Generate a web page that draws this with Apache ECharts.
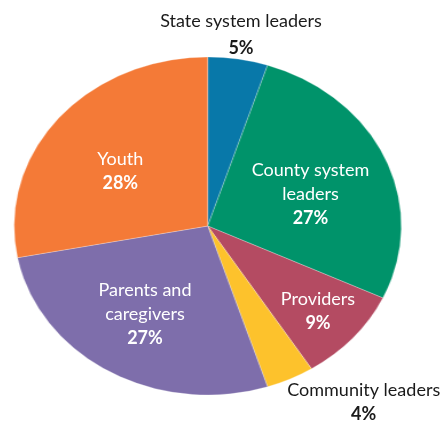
<!DOCTYPE html>
<html>
<head>
<meta charset="utf-8">
<script src="https://cdn.jsdelivr.net/npm/echarts@6/dist/echarts.min.js"></script>
<style>
  html, body { margin: 0; padding: 0; background: #fff; }
  #wrap { position: relative; width: 445px; height: 424px; overflow: hidden; }
  #pie { position: absolute; left: 0; top: 0; width: 445px; height: 424px;
         transform-origin: 207.7px 226px; transform: scaleX(1.1456); }
  #labels { position: absolute; left: 0; top: 0; width: 445px; height: 424px; }
</style>
</head>
<body>
<div id="wrap">
  <div id="pie"></div>
  <div id="labels"></div>
</div>
<script>
// ---- data ----
const categories = ['State system leaders', 'County system leaders', 'Providers', 'Community leaders', 'Parents and caregivers', 'Youth'];
const labelText = ['State system leaders', 'County system\nleaders', 'Providers', 'Community leaders', 'Parents and\ncaregivers', 'Youth'];
const shares = [5, 27, 9, 4, 27, 28];

// ---- styles ----
const colors = ['#0878a9', '#00936a', '#b44b62', '#fdc22c', '#7e6eab', '#f47a37'];
const labelColors = ['#1a1a1a', '#ffffff', '#ffffff', '#1a1a1a', '#ffffff', '#ffffff'];
const nameLineHeights = [30, 24, 24, 24, 24, 24];
// label block centres (px)
const labelPos = [[241, 33], [310.5, 194], [318, 311.5], [363.7, 402], [145, 314], [120.3, 171.5]];

const CX = 207.7, CY = 226, R = 169;
const FONT = 'Lato';

const pieData = categories.map((c, i) => ({ name: c, value: shares[i], itemStyle: { color: colors[i] } }));

const pieChart = echarts.init(document.getElementById('pie'), null, { renderer: 'canvas' });
pieChart.setOption({
  animation: false,
  series: [{
    type: 'pie',
    center: [CX, CY],
    radius: [0, R],
    startAngle: 90,
    clockwise: true,
    label: { show: false },
    labelLine: { show: false },
    itemStyle: { borderColor: 'rgba(255,255,255,0.5)', borderWidth: 0.5 },
    data: pieData
  }]
});

const labChart = echarts.init(document.getElementById('labels'), null, { renderer: 'canvas' });
labChart.setOption({
  animation: false,
  series: [{
    type: 'pie',
    center: [CX, CY],
    radius: [0, R],
    startAngle: 90,
    clockwise: true,
    silent: true,
    itemStyle: { color: 'rgba(0,0,0,0)' },
    labelLine: { show: false },
    label: {
      show: true,
      position: 'inside',
      formatter: function (p) {
        const lines = labelText[p.dataIndex].split('\n').map(s => '{n|' + s + '}');
        lines.push('{p|' + p.value + '%}');
        return lines.join('\n');
      },
      rich: {
        n: { fontFamily: FONT, fontSize: 18, fontWeight: 'normal', lineHeight: 24, align: 'center' },
        p: { fontFamily: FONT, fontSize: 18, fontWeight: 'bold', lineHeight: 24, align: 'center' }
      }
    },
    labelLayout: function (params) {
      const pos = labelPos[params.dataIndex];
      return { x: pos[0], y: pos[1], align: 'center', verticalAlign: 'middle' };
    },
    data: categories.map((c, i) => ({
      name: c, value: shares[i],
      label: {
        color: labelColors[i],
        rich: {
          n: { color: labelColors[i], lineHeight: nameLineHeights[i] },
          p: { color: labelColors[i] }
        }
      }
    }))
  }]
});
</script>
</body>
</html>
